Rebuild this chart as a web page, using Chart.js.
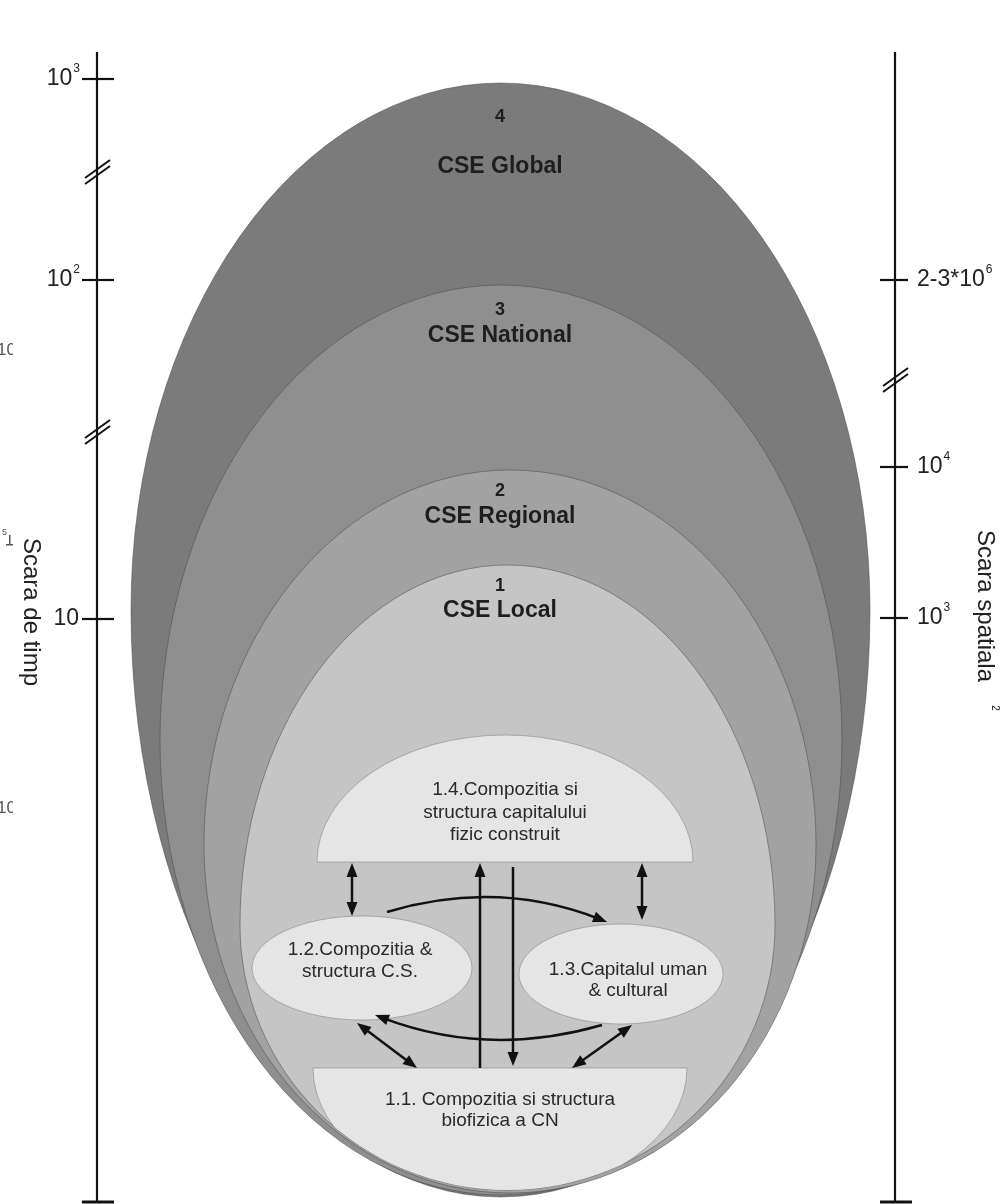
<!DOCTYPE html>
<html lang="ro">
<head>
  <meta charset="UTF-8" />
  <title>Scara CSE</title>
  <script src="https://cdn.jsdelivr.net/npm/chart.js"></script>
  <style>
    body { margin: 0; background: #fff; overflow: hidden; }
    .wrap { width: 1003px; height: 1204px; position: relative; }
  </style>
</head>
<body>
  <div class="wrap"><canvas id="cse"></canvas></div>

  <script>
    // nested socio-ecological systems (outer -> inner), diagram units
    const layerNums = ['4', '3', '2', '1'];
    const layerNames = ['CSE Global', 'CSE National', 'CSE Regional', 'CSE Local'];
    const layerTop = [83, 285, 470, 565];
    const layerWidest = [610, 740, 845, 925];
    const layerBottom = [1197, 1195, 1193, 1190];
    const layerLeft = [131, 160, 204, 240];
    const layerRight = [870, 842, 816, 775];
    const layerNumY = [117, 310, 491, 586];
    const layerNameY = [167, 336, 517, 611];
    const layerColors = ['#7b7b7b', '#8f8f8f', '#a2a2a2', '#c5c5c5'];

    // left axis: time scale
    const timeTicks = [79, 280, 619];
    const timeLabels = [['10', '3'], ['10', '2'], ['10', '']];
    const timeBreaks = [172, 432];
    // right axis: spatial scale
    const spaceTicks = [280, 467, 618];
    const spaceLabels = [['2-3*10', '6'], ['10', '4'], ['10', '3']];
    const spaceBreaks = [380];

    // inner components
    const boxes = [
      { id: '1.4', kind: 'top', cx: 505, base: 862, rx: 188, ry: 127, lines: ['1.4.Compozitia si', 'structura capitalului', 'fizic construit'], textY: [790, 813, 835], textX: 505 },
      { id: '1.1', kind: 'bottom', cx: 500, base: 1068, rx: 187, ry: 128, lines: ['1.1. Compozitia si structura', 'biofizica a CN'], textY: [1100, 1121], textX: 500 },
      { id: '1.2', kind: 'ellipse', cx: 362, base: 968, rx: 110, ry: 52, lines: ['1.2.Compozitia &', 'structura C.S.'], textY: [950, 972], textX: 360 },
      { id: '1.3', kind: 'ellipse', cx: 621, base: 974, rx: 102, ry: 50, lines: ['1.3.Capitalul uman', '& cultural'], textY: [970, 991], textX: 628 }
    ];

    // straight arrows: x1, y1, x2, y2, head at start, head at end
    const arrows = [
      [352, 863, 352, 916, true, true],
      [642, 863, 642, 920, true, true],
      [480, 1068, 480, 863, false, true],
      [513, 867, 513, 1066, false, true],
      [357, 1023, 417, 1068, true, true],
      [632, 1025, 572, 1068, true, true]
    ];
    // curved arrows: start, control, end (head at end)
    const curves = [
      [387, 912, 497, 879, 607, 922],
      [602, 1025, 488, 1058, 375, 1015]
    ];

    const FONT = '"Liberation Sans", Arial, sans-serif';

    const diagram = {
      id: 'diagram',
      beforeDatasetsDraw(chart) {
        const { ctx, scales: { x, y } } = chart;
        const px = v => x.getPixelForValue(v);
        const py = v => y.getPixelForValue(v);
        const dx = v => px(v) - px(0);
        const dy = v => py(v) - py(0);

        ctx.save();

        // egg shaped layers
        layerTop.forEach((top, i) => {
          const cx = px((layerLeft[i] + layerRight[i]) / 2);
          const rx = dx((layerRight[i] - layerLeft[i]) / 2);
          const wy = py(layerWidest[i]);
          ctx.beginPath();
          ctx.ellipse(cx, wy, rx, dy(layerWidest[i] - top), 0, Math.PI, 2 * Math.PI);
          ctx.ellipse(cx, wy, rx, dy(layerBottom[i] - layerWidest[i]), 0, 0, Math.PI);
          ctx.closePath();
          ctx.fillStyle = layerColors[i];
          ctx.fill();
          ctx.strokeStyle = 'rgba(70,70,70,0.5)';
          ctx.lineWidth = 1;
          ctx.stroke();
        });

        // clip inner stuff to local layer
        const li = layerTop.length - 1;
        const lcx = px((layerLeft[li] + layerRight[li]) / 2);
        const lrx = dx((layerRight[li] - layerLeft[li]) / 2);
        const lwy = py(layerWidest[li]);

        boxes.forEach(b => {
          ctx.save();
          if (b.kind === 'bottom') {
            ctx.beginPath();
            ctx.ellipse(lcx, lwy, lrx, dy(layerWidest[li] - layerTop[li]), 0, Math.PI, 2 * Math.PI);
            ctx.ellipse(lcx, lwy, lrx, dy(layerBottom[li] - layerWidest[li]), 0, 0, Math.PI);
            ctx.clip();
          }
          ctx.beginPath();
          if (b.kind === 'top') {
            ctx.ellipse(px(b.cx), py(b.base), dx(b.rx), dy(b.ry), 0, Math.PI, 2 * Math.PI);
          } else if (b.kind === 'bottom') {
            ctx.ellipse(px(b.cx), py(b.base), dx(b.rx), dy(b.ry), 0, 0, Math.PI, false);
          } else {
            ctx.ellipse(px(b.cx), py(b.base), dx(b.rx), dy(b.ry), 0, 0, 2 * Math.PI);
          }
          ctx.closePath();
          ctx.fillStyle = '#e5e5e5';
          ctx.fill();
          ctx.strokeStyle = 'rgba(120,120,120,0.5)';
          ctx.lineWidth = 1;
          ctx.stroke();
          ctx.restore();

          ctx.fillStyle = '#2a2a2a';
          ctx.font = '19px ' + FONT;
          ctx.textAlign = 'center';
          ctx.textBaseline = 'middle';
          b.lines.forEach((t, k) => ctx.fillText(t, px(b.textX), py(b.textY[k])));
        });

        // arrows
        const head = (x1, y1, x2, y2) => {
          const a = Math.atan2(y2 - y1, x2 - x1);
          const L = 14, Wd = 5.5;
          ctx.beginPath();
          ctx.moveTo(x2, y2);
          ctx.lineTo(x2 - L * Math.cos(a) + Wd * Math.sin(a), y2 - L * Math.sin(a) - Wd * Math.cos(a));
          ctx.lineTo(x2 - L * Math.cos(a) - Wd * Math.sin(a), y2 - L * Math.sin(a) + Wd * Math.cos(a));
          ctx.closePath();
          ctx.fill();
        };
        const shorten = (x1, y1, x2, y2, s) => {
          const len = Math.hypot(x2 - x1, y2 - y1);
          return [x2 - (x2 - x1) * s / len, y2 - (y2 - y1) * s / len];
        };
        ctx.strokeStyle = '#111';
        ctx.fillStyle = '#111';
        ctx.lineWidth = 2.5;
        arrows.forEach(([x1, y1, x2, y2, hs, he]) => {
          let a = [px(x1), py(y1)], b = [px(x2), py(y2)];
          const s = hs ? shorten(b[0], b[1], a[0], a[1], 8) : a;
          const e = he ? shorten(a[0], a[1], b[0], b[1], 8) : b;
          ctx.beginPath();
          ctx.moveTo(s[0], s[1]);
          ctx.lineTo(e[0], e[1]);
          ctx.stroke();
          if (hs) head(b[0], b[1], a[0], a[1]);
          if (he) head(a[0], a[1], b[0], b[1]);
        });
        curves.forEach(([x1, y1, cx, cy, x2, y2]) => {
          const e = shorten(px(cx), py(cy), px(x2), py(y2), 8);
          ctx.beginPath();
          ctx.moveTo(px(x1), py(y1));
          ctx.quadraticCurveTo(px(cx), py(cy), e[0], e[1]);
          ctx.stroke();
          head(px(cx), py(cy), px(x2), py(y2));
        });

        // layer labels
        ctx.fillStyle = '#1e1e1e';
        ctx.textAlign = 'center';
        ctx.textBaseline = 'middle';
        layerNames.forEach((n, i) => {
          ctx.font = 'bold 18px ' + FONT;
          ctx.fillText(layerNums[i], px(500), py(layerNumY[i]));
          ctx.font = 'bold 23px ' + FONT;
          ctx.fillText(n, px(500), py(layerNameY[i]));
        });

        // axes
        const drawAxis = (ax, ticks, labels, breaks, side) => {
          ctx.strokeStyle = '#111';
          ctx.fillStyle = '#222';
          ctx.lineWidth = 2.2;
          ctx.beginPath();
          ctx.moveTo(px(ax), py(52));
          ctx.lineTo(px(ax), py(1202));
          ctx.stroke();
          // bottom T
          ctx.beginPath();
          ctx.lineWidth = 3;
          ctx.moveTo(px(ax - 15), py(1202));
          ctx.lineTo(px(ax + 17), py(1202));
          ctx.stroke();
          ctx.lineWidth = 2.2;
          ticks.forEach((t, i) => {
            ctx.beginPath();
            ctx.moveTo(px(ax - 15), py(t));
            ctx.lineTo(px(ax + (side === 'left' ? 17 : 13)), py(t));
            ctx.stroke();
            const [base, sup] = labels[i];
            ctx.font = '23px ' + FONT;
            ctx.textBaseline = 'middle';
            const bw = ctx.measureText(base).width;
            ctx.font = '12px ' + FONT;
            const sw = sup ? ctx.measureText(sup).width : 0;
            let x0 = side === 'left' ? px(ax - 17) - bw - sw - 1 : px(ax + 22);
            ctx.textAlign = 'left';
            ctx.font = '23px ' + FONT;
            ctx.fillText(base, x0, py(t));
            if (sup) {
              ctx.font = '12px ' + FONT;
              ctx.fillText(sup, x0 + bw + 1, py(t - 10));
            }
          });
          breaks.forEach(b => {
            ctx.lineWidth = 2;
            [-3, 3].forEach(o => {
              ctx.beginPath();
              ctx.moveTo(px(ax - 12), py(b + 9 + o));
              ctx.lineTo(px(ax + 13), py(b - 9 + o));
              ctx.stroke();
            });
          });
        };
        drawAxis(97, timeTicks, timeLabels, timeBreaks, 'left');
        drawAxis(895, spaceTicks, spaceLabels, spaceBreaks, 'right');

        // axis titles
        const vtext = (t, xx, yy, size) => {
          ctx.save();
          ctx.translate(px(xx), py(yy));
          ctx.rotate(Math.PI / 2);
          ctx.font = size + 'px ' + FONT;
          ctx.textAlign = 'center';
          ctx.textBaseline = 'middle';
          ctx.fillStyle = '#222';
          ctx.fillText(t, 0, 0);
          ctx.restore();
        };
        vtext('Scara de timp', 31, 612, 24);
        vtext('Scara spatiala', 985, 606, 24);
        vtext('2', 995, 708, 10);

        // cut-off fragments at left edge
        ctx.save();
        ctx.beginPath();
        ctx.rect(px(0), py(0), dx(13), dy(1204));
        ctx.clip();
        ctx.fillStyle = '#555';
        ctx.font = '17px ' + FONT;
        ctx.textAlign = 'left';
        ctx.textBaseline = 'middle';
        ctx.fillText('10', px(-3), py(350));
        ctx.fillText('10', px(-3), py(808));
        ctx.font = '9px ' + FONT;
        ctx.fillText('5', px(2), py(533));
        ctx.fillRect(px(9), py(535), 1.5, 10);
        ctx.fillRect(px(6), py(544), 7, 1.5);
        ctx.restore();

        ctx.restore();
      }
    };

    new Chart(document.getElementById('cse'), {
      type: 'scatter',
      data: {
        datasets: [{
          data: layerNames.map((n, i) => ({ x: 500, y: layerNameY[i] })),
          pointRadius: 0
        }]
      },
      options: {
        responsive: true,
        maintainAspectRatio: false,
        animation: false,
        layout: { padding: 0 },
        plugins: { legend: { display: false }, tooltip: { enabled: false } },
        scales: {
          x: { type: 'linear', min: 0, max: 1003, display: false },
          y: { type: 'linear', min: 0, max: 1204, reverse: true, display: false }
        }
      },
      plugins: [diagram]
    });
  </script>
</body>
</html>
